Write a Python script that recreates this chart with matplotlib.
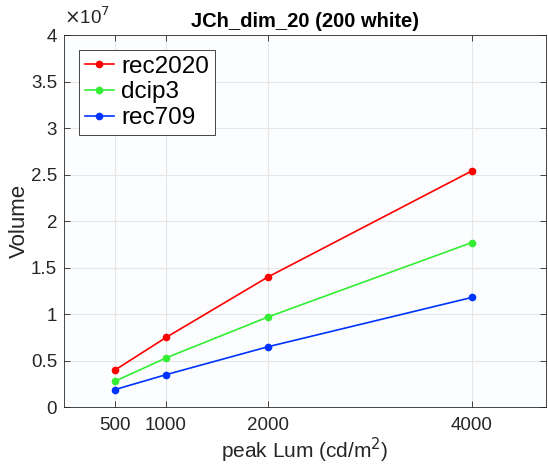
import matplotlib.pyplot as plt
from matplotlib.ticker import FuncFormatter

peak_lum = [500, 1000, 2000, 4000]
rec2020 = [0.40e7, 0.75e7, 1.40e7, 2.54e7]
dcip3 = [0.28e7, 0.53e7, 0.97e7, 1.77e7]
rec709 = [0.19e7, 0.35e7, 0.65e7, 1.18e7]

plt.rcParams['font.family'] = ['Liberation Sans', 'DejaVu Sans']

fig = plt.figure(figsize=(5.48, 4.67), dpi=100)
ax = fig.add_axes([0.117, 0.128, 0.879, 0.797])
ax.set_facecolor("#fbfdfe")

ax.plot(peak_lum, rec2020, marker=".", color="#ff0000", markersize=9, lw=1.2, label="rec2020")
ax.plot(peak_lum, dcip3, marker=".", color="#33ee33", markersize=9, lw=1.2, label="dcip3")
ax.plot(peak_lum, rec709, marker=".", color="#0033ff", markersize=9, lw=1.2, label="rec709")

ax.set_xlim(0, 4725)
ax.set_ylim(0, 4e7)
ax.set_xticks(peak_lum)
ax.set_yticks([i * 0.5e7 for i in range(9)])
ax.yaxis.set_major_formatter(FuncFormatter(lambda v, p: f"{v/1e7:g}"))
ax.grid(color="#e6e6e6", lw=0.8)
ax.tick_params(direction="in", top=True, right=True, length=4, width=0.6,
               labelsize=13.5, colors="#262626", pad=7)
ax.tick_params(axis="y", pad=5)
for s in ax.spines.values():
    s.set_color("#262626")
    s.set_linewidth(0.6)

ax.text(0.0, 1.02, r"$\times$10$^{7}$", transform=ax.transAxes, fontsize=13.5,
        color="#262626", ha="left", va="bottom")
ax.set_title("JCh_dim_20 (200 white)", fontsize=14.5, fontweight="bold", pad=6)
ax.set_xlabel("peak Lum (cd/m$^2$)", fontsize=15, color="#262626", labelpad=1)
ax.set_ylabel("Volume", fontsize=16, color="#262626", labelpad=1)

leg = ax.legend(loc="upper left", fontsize=17.5, handlelength=1.2, handletextpad=0.3,
                borderpad=0.25, labelspacing=0.15, fancybox=False, framealpha=1,
                borderaxespad=0.6)
leg.get_frame().set_edgecolor("#262626")
leg.get_frame().set_linewidth(0.6)

plt.savefig("out.png")
